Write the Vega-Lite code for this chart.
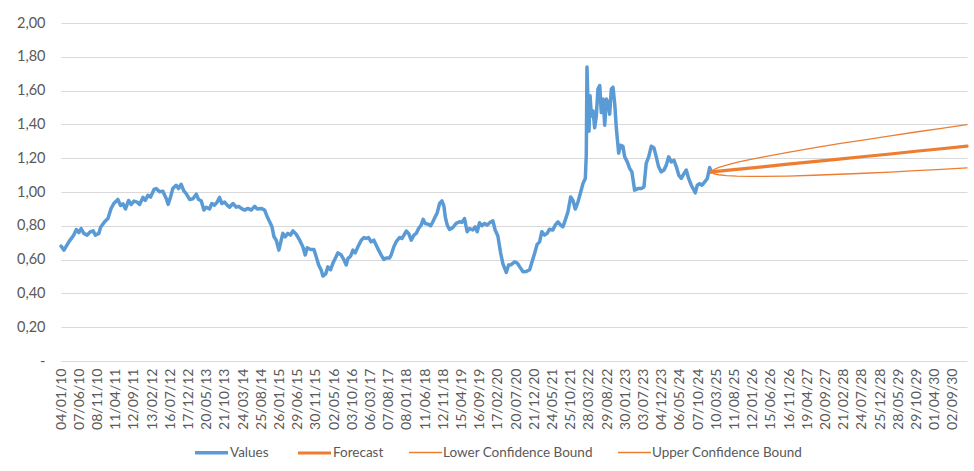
{
  "$schema": "https://vega.github.io/schema/vega-lite/v6.json",
  "autosize": {"type": "none"},
  "width": 906,
  "height": 338,
  "padding": {"left": 61, "top": 23, "right": 7, "bottom": 110},
  "background": "#ffffff",
  "config": {
    "view": {"stroke": null},
    "font": "Lato",
    "axis": {"labelFont": "Lato", "labelColor": "#595959", "labelFontSize": 14},
    "legend": {"labelFont": "Lato", "labelColor": "#595959", "labelFontSize": 13.5}
  },
  "data": {
    "values": [
      {"date": "2010-01-04", "value": 0.68, "series": "Values"},
      {"date": "2010-01-29", "value": 0.656, "series": "Values"},
      {"date": "2010-03-11", "value": 0.705, "series": "Values"},
      {"date": "2010-04-22", "value": 0.745, "series": "Values"},
      {"date": "2010-05-14", "value": 0.778, "series": "Values"},
      {"date": "2010-06-04", "value": 0.759, "series": "Values"},
      {"date": "2010-06-23", "value": 0.784, "series": "Values"},
      {"date": "2010-07-16", "value": 0.755, "series": "Values"},
      {"date": "2010-08-13", "value": 0.745, "series": "Values"},
      {"date": "2010-09-10", "value": 0.765, "series": "Values"},
      {"date": "2010-10-03", "value": 0.77, "series": "Values"},
      {"date": "2010-10-22", "value": 0.745, "series": "Values"},
      {"date": "2010-11-20", "value": 0.755, "series": "Values"},
      {"date": "2010-12-04", "value": 0.79, "series": "Values"},
      {"date": "2011-01-08", "value": 0.824, "series": "Values"},
      {"date": "2011-02-05", "value": 0.843, "series": "Values"},
      {"date": "2011-03-04", "value": 0.903, "series": "Values"},
      {"date": "2011-03-27", "value": 0.932, "series": "Values"},
      {"date": "2011-04-30", "value": 0.956, "series": "Values"},
      {"date": "2011-05-23", "value": 0.92, "series": "Values"},
      {"date": "2011-06-12", "value": 0.93, "series": "Values"},
      {"date": "2011-07-04", "value": 0.9, "series": "Values"},
      {"date": "2011-07-30", "value": 0.95, "series": "Values"},
      {"date": "2011-08-21", "value": 0.926, "series": "Values"},
      {"date": "2011-09-13", "value": 0.946, "series": "Values"},
      {"date": "2011-10-10", "value": 0.94, "series": "Values"},
      {"date": "2011-10-31", "value": 0.926, "series": "Values"},
      {"date": "2011-11-28", "value": 0.968, "series": "Values"},
      {"date": "2011-12-18", "value": 0.95, "series": "Values"},
      {"date": "2012-01-09", "value": 0.981, "series": "Values"},
      {"date": "2012-02-01", "value": 0.97, "series": "Values"},
      {"date": "2012-03-01", "value": 1.015, "series": "Values"},
      {"date": "2012-03-20", "value": 1.02, "series": "Values"},
      {"date": "2012-04-17", "value": 1.001, "series": "Values"},
      {"date": "2012-05-15", "value": 1.005, "series": "Values"},
      {"date": "2012-06-12", "value": 0.962, "series": "Values"},
      {"date": "2012-06-29", "value": 0.927, "series": "Values"},
      {"date": "2012-07-19", "value": 0.971, "series": "Values"},
      {"date": "2012-08-07", "value": 1.021, "series": "Values"},
      {"date": "2012-09-04", "value": 1.04, "series": "Values"},
      {"date": "2012-09-24", "value": 1.02, "series": "Values"},
      {"date": "2012-10-16", "value": 1.046, "series": "Values"},
      {"date": "2012-11-08", "value": 1.007, "series": "Values"},
      {"date": "2012-11-28", "value": 0.99, "series": "Values"},
      {"date": "2012-12-27", "value": 0.956, "series": "Values"},
      {"date": "2013-01-24", "value": 0.96, "series": "Values"},
      {"date": "2013-02-21", "value": 0.987, "series": "Values"},
      {"date": "2013-03-13", "value": 0.956, "series": "Values"},
      {"date": "2013-04-04", "value": 0.948, "series": "Values"},
      {"date": "2013-04-27", "value": 0.893, "series": "Values"},
      {"date": "2013-05-16", "value": 0.91, "series": "Values"},
      {"date": "2013-06-14", "value": 0.9, "series": "Values"},
      {"date": "2013-07-03", "value": 0.932, "series": "Values"},
      {"date": "2013-07-26", "value": 0.922, "series": "Values"},
      {"date": "2013-08-17", "value": 0.94, "series": "Values"},
      {"date": "2013-09-06", "value": 0.968, "series": "Values"},
      {"date": "2013-09-26", "value": 0.932, "series": "Values"},
      {"date": "2013-10-19", "value": 0.94, "series": "Values"},
      {"date": "2013-11-10", "value": 0.922, "series": "Values"},
      {"date": "2013-11-30", "value": 0.91, "series": "Values"},
      {"date": "2013-12-29", "value": 0.932, "series": "Values"},
      {"date": "2014-01-25", "value": 0.91, "series": "Values"},
      {"date": "2014-02-15", "value": 0.915, "series": "Values"},
      {"date": "2014-03-09", "value": 0.903, "series": "Values"},
      {"date": "2014-04-06", "value": 0.893, "series": "Values"},
      {"date": "2014-05-04", "value": 0.903, "series": "Values"},
      {"date": "2014-06-01", "value": 0.893, "series": "Values"},
      {"date": "2014-06-30", "value": 0.915, "series": "Values"},
      {"date": "2014-07-22", "value": 0.9, "series": "Values"},
      {"date": "2014-08-25", "value": 0.903, "series": "Values"},
      {"date": "2014-09-23", "value": 0.893, "series": "Values"},
      {"date": "2014-10-15", "value": 0.853, "series": "Values"},
      {"date": "2014-11-04", "value": 0.824, "series": "Values"},
      {"date": "2014-11-24", "value": 0.794, "series": "Values"},
      {"date": "2014-12-11", "value": 0.735, "series": "Values"},
      {"date": "2014-12-30", "value": 0.715, "series": "Values"},
      {"date": "2015-01-21", "value": 0.656, "series": "Values"},
      {"date": "2015-02-05", "value": 0.7, "series": "Values"},
      {"date": "2015-02-24", "value": 0.755, "series": "Values"},
      {"date": "2015-03-15", "value": 0.735, "series": "Values"},
      {"date": "2015-04-07", "value": 0.755, "series": "Values"},
      {"date": "2015-04-30", "value": 0.745, "series": "Values"},
      {"date": "2015-05-20", "value": 0.77, "series": "Values"},
      {"date": "2015-06-17", "value": 0.75, "series": "Values"},
      {"date": "2015-07-16", "value": 0.715, "series": "Values"},
      {"date": "2015-08-12", "value": 0.676, "series": "Values"},
      {"date": "2015-09-01", "value": 0.627, "series": "Values"},
      {"date": "2015-09-18", "value": 0.67, "series": "Values"},
      {"date": "2015-10-17", "value": 0.66, "series": "Values"},
      {"date": "2015-11-14", "value": 0.66, "series": "Values"},
      {"date": "2015-12-03", "value": 0.617, "series": "Values"},
      {"date": "2015-12-24", "value": 0.568, "series": "Values"},
      {"date": "2016-01-14", "value": 0.538, "series": "Values"},
      {"date": "2016-01-29", "value": 0.503, "series": "Values"},
      {"date": "2016-02-21", "value": 0.515, "series": "Values"},
      {"date": "2016-03-11", "value": 0.557, "series": "Values"},
      {"date": "2016-04-03", "value": 0.54, "series": "Values"},
      {"date": "2016-04-22", "value": 0.578, "series": "Values"},
      {"date": "2016-05-12", "value": 0.607, "series": "Values"},
      {"date": "2016-06-04", "value": 0.64, "series": "Values"},
      {"date": "2016-07-02", "value": 0.627, "series": "Values"},
      {"date": "2016-07-25", "value": 0.598, "series": "Values"},
      {"date": "2016-08-13", "value": 0.568, "series": "Values"},
      {"date": "2016-08-28", "value": 0.607, "series": "Values"},
      {"date": "2016-09-19", "value": 0.62, "series": "Values"},
      {"date": "2016-10-09", "value": 0.656, "series": "Values"},
      {"date": "2016-10-28", "value": 0.64, "series": "Values"},
      {"date": "2016-11-20", "value": 0.676, "series": "Values"},
      {"date": "2016-12-18", "value": 0.715, "series": "Values"},
      {"date": "2017-01-09", "value": 0.73, "series": "Values"},
      {"date": "2017-01-29", "value": 0.725, "series": "Values"},
      {"date": "2017-02-18", "value": 0.73, "series": "Values"},
      {"date": "2017-03-12", "value": 0.705, "series": "Values"},
      {"date": "2017-04-04", "value": 0.715, "series": "Values"},
      {"date": "2017-04-23", "value": 0.686, "series": "Values"},
      {"date": "2017-05-14", "value": 0.656, "series": "Values"},
      {"date": "2017-06-05", "value": 0.627, "series": "Values"},
      {"date": "2017-06-27", "value": 0.601, "series": "Values"},
      {"date": "2017-07-17", "value": 0.61, "series": "Values"},
      {"date": "2017-08-15", "value": 0.61, "series": "Values"},
      {"date": "2017-08-28", "value": 0.627, "series": "Values"},
      {"date": "2017-09-20", "value": 0.676, "series": "Values"},
      {"date": "2017-10-09", "value": 0.705, "series": "Values"},
      {"date": "2017-11-07", "value": 0.731, "series": "Values"},
      {"date": "2017-11-27", "value": 0.725, "series": "Values"},
      {"date": "2017-12-15", "value": 0.745, "series": "Values"},
      {"date": "2018-01-03", "value": 0.769, "series": "Values"},
      {"date": "2018-01-23", "value": 0.755, "series": "Values"},
      {"date": "2018-02-14", "value": 0.715, "series": "Values"},
      {"date": "2018-03-09", "value": 0.745, "series": "Values"},
      {"date": "2018-03-28", "value": 0.755, "series": "Values"},
      {"date": "2018-04-17", "value": 0.784, "series": "Values"},
      {"date": "2018-05-09", "value": 0.804, "series": "Values"},
      {"date": "2018-05-26", "value": 0.838, "series": "Values"},
      {"date": "2018-06-12", "value": 0.814, "series": "Values"},
      {"date": "2018-07-05", "value": 0.81, "series": "Values"},
      {"date": "2018-07-28", "value": 0.8, "series": "Values"},
      {"date": "2018-08-16", "value": 0.824, "series": "Values"},
      {"date": "2018-09-05", "value": 0.853, "series": "Values"},
      {"date": "2018-09-22", "value": 0.877, "series": "Values"},
      {"date": "2018-10-12", "value": 0.932, "series": "Values"},
      {"date": "2018-11-01", "value": 0.948, "series": "Values"},
      {"date": "2018-11-18", "value": 0.915, "series": "Values"},
      {"date": "2018-11-29", "value": 0.853, "series": "Values"},
      {"date": "2018-12-16", "value": 0.804, "series": "Values"},
      {"date": "2019-01-04", "value": 0.778, "series": "Values"},
      {"date": "2019-02-01", "value": 0.79, "series": "Values"},
      {"date": "2019-03-01", "value": 0.814, "series": "Values"},
      {"date": "2019-03-30", "value": 0.824, "series": "Values"},
      {"date": "2019-04-18", "value": 0.82, "series": "Values"},
      {"date": "2019-05-11", "value": 0.843, "series": "Values"},
      {"date": "2019-06-02", "value": 0.765, "series": "Values"},
      {"date": "2019-06-22", "value": 0.784, "series": "Values"},
      {"date": "2019-07-20", "value": 0.775, "series": "Values"},
      {"date": "2019-08-09", "value": 0.794, "series": "Values"},
      {"date": "2019-08-26", "value": 0.765, "series": "Values"},
      {"date": "2019-09-15", "value": 0.818, "series": "Values"},
      {"date": "2019-10-05", "value": 0.8, "series": "Values"},
      {"date": "2019-10-28", "value": 0.814, "series": "Values"},
      {"date": "2019-11-19", "value": 0.804, "series": "Values"},
      {"date": "2019-12-09", "value": 0.818, "series": "Values"},
      {"date": "2020-01-06", "value": 0.829, "series": "Values"},
      {"date": "2020-01-25", "value": 0.775, "series": "Values"},
      {"date": "2020-02-17", "value": 0.74, "series": "Values"},
      {"date": "2020-03-11", "value": 0.64, "series": "Values"},
      {"date": "2020-03-31", "value": 0.575, "series": "Values"},
      {"date": "2020-04-28", "value": 0.524, "series": "Values"},
      {"date": "2020-05-18", "value": 0.568, "series": "Values"},
      {"date": "2020-06-09", "value": 0.57, "series": "Values"},
      {"date": "2020-07-08", "value": 0.587, "series": "Values"},
      {"date": "2020-07-30", "value": 0.58, "series": "Values"},
      {"date": "2020-08-20", "value": 0.557, "series": "Values"},
      {"date": "2020-09-17", "value": 0.528, "series": "Values"},
      {"date": "2020-10-15", "value": 0.53, "series": "Values"},
      {"date": "2020-11-12", "value": 0.54, "series": "Values"},
      {"date": "2020-12-02", "value": 0.587, "series": "Values"},
      {"date": "2020-12-24", "value": 0.637, "series": "Values"},
      {"date": "2021-01-14", "value": 0.69, "series": "Values"},
      {"date": "2021-02-04", "value": 0.705, "series": "Values"},
      {"date": "2021-02-23", "value": 0.765, "series": "Values"},
      {"date": "2021-03-18", "value": 0.745, "series": "Values"},
      {"date": "2021-04-09", "value": 0.755, "series": "Values"},
      {"date": "2021-04-29", "value": 0.78, "series": "Values"},
      {"date": "2021-05-27", "value": 0.775, "series": "Values"},
      {"date": "2021-06-16", "value": 0.804, "series": "Values"},
      {"date": "2021-07-09", "value": 0.824, "series": "Values"},
      {"date": "2021-08-01", "value": 0.804, "series": "Values"},
      {"date": "2021-08-20", "value": 0.794, "series": "Values"},
      {"date": "2021-09-09", "value": 0.834, "series": "Values"},
      {"date": "2021-10-02", "value": 0.883, "series": "Values"},
      {"date": "2021-10-25", "value": 0.971, "series": "Values"},
      {"date": "2021-11-13", "value": 0.95, "series": "Values"},
      {"date": "2021-12-03", "value": 0.899, "series": "Values"},
      {"date": "2021-12-26", "value": 0.942, "series": "Values"},
      {"date": "2022-01-18", "value": 1.0, "series": "Values"},
      {"date": "2022-02-06", "value": 1.05, "series": "Values"},
      {"date": "2022-02-26", "value": 1.08, "series": "Values"},
      {"date": "2022-03-06", "value": 1.22, "series": "Values"},
      {"date": "2022-03-12", "value": 1.74, "series": "Values"},
      {"date": "2022-03-21", "value": 1.51, "series": "Values"},
      {"date": "2022-03-29", "value": 1.36, "series": "Values"},
      {"date": "2022-04-07", "value": 1.57, "series": "Values"},
      {"date": "2022-04-18", "value": 1.45, "series": "Values"},
      {"date": "2022-05-02", "value": 1.48, "series": "Values"},
      {"date": "2022-05-16", "value": 1.38, "series": "Values"},
      {"date": "2022-05-30", "value": 1.45, "series": "Values"},
      {"date": "2022-06-13", "value": 1.61, "series": "Values"},
      {"date": "2022-06-28", "value": 1.63, "series": "Values"},
      {"date": "2022-07-11", "value": 1.47, "series": "Values"},
      {"date": "2022-07-26", "value": 1.55, "series": "Values"},
      {"date": "2022-08-09", "value": 1.395, "series": "Values"},
      {"date": "2022-08-23", "value": 1.55, "series": "Values"},
      {"date": "2022-09-06", "value": 1.53, "series": "Values"},
      {"date": "2022-09-20", "value": 1.46, "series": "Values"},
      {"date": "2022-10-04", "value": 1.61, "series": "Values"},
      {"date": "2022-10-18", "value": 1.62, "series": "Values"},
      {"date": "2022-11-02", "value": 1.52, "series": "Values"},
      {"date": "2022-11-15", "value": 1.38, "series": "Values"},
      {"date": "2022-12-05", "value": 1.23, "series": "Values"},
      {"date": "2022-12-22", "value": 1.277, "series": "Values"},
      {"date": "2023-01-10", "value": 1.27, "series": "Values"},
      {"date": "2023-01-25", "value": 1.208, "series": "Values"},
      {"date": "2023-02-16", "value": 1.178, "series": "Values"},
      {"date": "2023-03-08", "value": 1.139, "series": "Values"},
      {"date": "2023-03-27", "value": 1.119, "series": "Values"},
      {"date": "2023-04-19", "value": 1.011, "series": "Values"},
      {"date": "2023-05-17", "value": 1.02, "series": "Values"},
      {"date": "2023-06-14", "value": 1.02, "series": "Values"},
      {"date": "2023-07-07", "value": 1.03, "series": "Values"},
      {"date": "2023-07-26", "value": 1.169, "series": "Values"},
      {"date": "2023-08-16", "value": 1.208, "series": "Values"},
      {"date": "2023-09-07", "value": 1.271, "series": "Values"},
      {"date": "2023-09-30", "value": 1.26, "series": "Values"},
      {"date": "2023-10-19", "value": 1.208, "series": "Values"},
      {"date": "2023-11-08", "value": 1.149, "series": "Values"},
      {"date": "2023-11-30", "value": 1.119, "series": "Values"},
      {"date": "2023-12-23", "value": 1.13, "series": "Values"},
      {"date": "2024-01-12", "value": 1.159, "series": "Values"},
      {"date": "2024-02-01", "value": 1.208, "series": "Values"},
      {"date": "2024-02-23", "value": 1.178, "series": "Values"},
      {"date": "2024-03-17", "value": 1.188, "series": "Values"},
      {"date": "2024-04-06", "value": 1.149, "series": "Values"},
      {"date": "2024-04-26", "value": 1.1, "series": "Values"},
      {"date": "2024-05-18", "value": 1.08, "series": "Values"},
      {"date": "2024-06-10", "value": 1.11, "series": "Values"},
      {"date": "2024-06-29", "value": 1.13, "series": "Values"},
      {"date": "2024-07-19", "value": 1.08, "series": "Values"},
      {"date": "2024-08-10", "value": 1.04, "series": "Values"},
      {"date": "2024-09-02", "value": 1.011, "series": "Values"},
      {"date": "2024-09-13", "value": 0.995, "series": "Values"},
      {"date": "2024-09-30", "value": 1.04, "series": "Values"},
      {"date": "2024-10-20", "value": 1.05, "series": "Values"},
      {"date": "2024-11-09", "value": 1.04, "series": "Values"},
      {"date": "2024-12-02", "value": 1.06, "series": "Values"},
      {"date": "2024-12-24", "value": 1.08, "series": "Values"},
      {"date": "2025-01-13", "value": 1.145, "series": "Values"},
      {"date": "2025-01-26", "value": 1.119, "series": "Values"},

      {"date": "2025-01-26", "value": 1.119, "series": "Forecast"},
      {"date": "2025-08-30", "value": 1.134, "series": "Forecast"},
      {"date": "2026-04-04", "value": 1.149, "series": "Forecast"},
      {"date": "2026-11-06", "value": 1.165, "series": "Forecast"},
      {"date": "2027-06-11", "value": 1.18, "series": "Forecast"},
      {"date": "2028-01-13", "value": 1.195, "series": "Forecast"},
      {"date": "2028-08-16", "value": 1.21, "series": "Forecast"},
      {"date": "2029-03-21", "value": 1.225, "series": "Forecast"},
      {"date": "2029-10-23", "value": 1.241, "series": "Forecast"},
      {"date": "2030-05-28", "value": 1.256, "series": "Forecast"},
      {"date": "2030-12-30", "value": 1.271, "series": "Forecast"},

      {"date": "2025-01-26", "value": 1.119, "series": "Lower Confidence Bound"},
      {"date": "2025-02-17", "value": 1.108, "series": "Lower Confidence Bound"},
      {"date": "2025-04-01", "value": 1.102, "series": "Lower Confidence Bound"},
      {"date": "2025-06-05", "value": 1.097, "series": "Lower Confidence Bound"},
      {"date": "2025-08-30", "value": 1.094, "series": "Lower Confidence Bound"},
      {"date": "2025-12-17", "value": 1.092, "series": "Lower Confidence Bound"},
      {"date": "2026-04-04", "value": 1.092, "series": "Lower Confidence Bound"},
      {"date": "2026-11-06", "value": 1.094, "series": "Lower Confidence Bound"},
      {"date": "2027-06-11", "value": 1.099, "series": "Lower Confidence Bound"},
      {"date": "2028-01-13", "value": 1.105, "series": "Lower Confidence Bound"},
      {"date": "2028-08-16", "value": 1.111, "series": "Lower Confidence Bound"},
      {"date": "2029-03-21", "value": 1.118, "series": "Lower Confidence Bound"},
      {"date": "2029-10-23", "value": 1.126, "series": "Lower Confidence Bound"},
      {"date": "2030-05-28", "value": 1.134, "series": "Lower Confidence Bound"},
      {"date": "2030-12-30", "value": 1.143, "series": "Lower Confidence Bound"},

      {"date": "2025-01-26", "value": 1.119, "series": "Upper Confidence Bound"},
      {"date": "2025-02-17", "value": 1.133, "series": "Upper Confidence Bound"},
      {"date": "2025-04-01", "value": 1.146, "series": "Upper Confidence Bound"},
      {"date": "2025-06-05", "value": 1.159, "series": "Upper Confidence Bound"},
      {"date": "2025-08-30", "value": 1.175, "series": "Upper Confidence Bound"},
      {"date": "2025-12-17", "value": 1.191, "series": "Upper Confidence Bound"},
      {"date": "2026-04-04", "value": 1.207, "series": "Upper Confidence Bound"},
      {"date": "2026-11-06", "value": 1.235, "series": "Upper Confidence Bound"},
      {"date": "2027-06-11", "value": 1.261, "series": "Upper Confidence Bound"},
      {"date": "2028-01-13", "value": 1.286, "series": "Upper Confidence Bound"},
      {"date": "2028-08-16", "value": 1.309, "series": "Upper Confidence Bound"},
      {"date": "2029-03-21", "value": 1.332, "series": "Upper Confidence Bound"},
      {"date": "2029-10-23", "value": 1.355, "series": "Upper Confidence Bound"},
      {"date": "2030-05-28", "value": 1.377, "series": "Upper Confidence Bound"},
      {"date": "2030-12-30", "value": 1.399, "series": "Upper Confidence Bound"}
    ]
  },
  "mark": {"type": "line", "strokeCap": "round", "strokeJoin": "round"},
  "encoding": {
    "x": {
      "field": "date",
      "type": "temporal",
      "scale": {
        "type": "utc",
        "domain": [
          {"year": 2010, "month": 1, "date": 4, "utc": true},
          {"year": 2030, "month": 12, "date": 30, "utc": true}
        ]
      },
      "axis": {
        "title": null,
        "values": [
          {"year": 2010, "month": 1, "date": 4, "utc": true},
          {"year": 2010, "month": 6, "date": 7, "utc": true},
          {"year": 2010, "month": 11, "date": 8, "utc": true},
          {"year": 2011, "month": 4, "date": 11, "utc": true},
          {"year": 2011, "month": 9, "date": 12, "utc": true},
          {"year": 2012, "month": 2, "date": 13, "utc": true},
          {"year": 2012, "month": 7, "date": 16, "utc": true},
          {"year": 2012, "month": 12, "date": 17, "utc": true},
          {"year": 2013, "month": 5, "date": 20, "utc": true},
          {"year": 2013, "month": 10, "date": 21, "utc": true},
          {"year": 2014, "month": 3, "date": 24, "utc": true},
          {"year": 2014, "month": 8, "date": 25, "utc": true},
          {"year": 2015, "month": 1, "date": 26, "utc": true},
          {"year": 2015, "month": 6, "date": 29, "utc": true},
          {"year": 2015, "month": 11, "date": 30, "utc": true},
          {"year": 2016, "month": 5, "date": 2, "utc": true},
          {"year": 2016, "month": 10, "date": 3, "utc": true},
          {"year": 2017, "month": 3, "date": 6, "utc": true},
          {"year": 2017, "month": 8, "date": 7, "utc": true},
          {"year": 2018, "month": 1, "date": 8, "utc": true},
          {"year": 2018, "month": 6, "date": 11, "utc": true},
          {"year": 2018, "month": 11, "date": 12, "utc": true},
          {"year": 2019, "month": 4, "date": 15, "utc": true},
          {"year": 2019, "month": 9, "date": 16, "utc": true},
          {"year": 2020, "month": 2, "date": 17, "utc": true},
          {"year": 2020, "month": 7, "date": 20, "utc": true},
          {"year": 2020, "month": 12, "date": 21, "utc": true},
          {"year": 2021, "month": 5, "date": 24, "utc": true},
          {"year": 2021, "month": 10, "date": 25, "utc": true},
          {"year": 2022, "month": 3, "date": 28, "utc": true},
          {"year": 2022, "month": 8, "date": 29, "utc": true},
          {"year": 2023, "month": 1, "date": 30, "utc": true},
          {"year": 2023, "month": 7, "date": 3, "utc": true},
          {"year": 2023, "month": 12, "date": 4, "utc": true},
          {"year": 2024, "month": 5, "date": 6, "utc": true},
          {"year": 2024, "month": 10, "date": 7, "utc": true},
          {"year": 2025, "month": 3, "date": 10, "utc": true},
          {"year": 2025, "month": 8, "date": 11, "utc": true},
          {"year": 2026, "month": 1, "date": 12, "utc": true},
          {"year": 2026, "month": 6, "date": 15, "utc": true},
          {"year": 2026, "month": 11, "date": 16, "utc": true},
          {"year": 2027, "month": 4, "date": 19, "utc": true},
          {"year": 2027, "month": 9, "date": 20, "utc": true},
          {"year": 2028, "month": 2, "date": 21, "utc": true},
          {"year": 2028, "month": 7, "date": 24, "utc": true},
          {"year": 2028, "month": 12, "date": 25, "utc": true},
          {"year": 2029, "month": 5, "date": 28, "utc": true},
          {"year": 2029, "month": 10, "date": 29, "utc": true},
          {"year": 2030, "month": 4, "date": 1, "utc": true},
          {"year": 2030, "month": 9, "date": 2, "utc": true}
        ],
        "labelExpr": "utcFormat(datum.value, '%d/%m/%y')",
        "labelAngle": -90,
        "labelOverlap": false,
        "labelBound": false,
        "labelFlush": false,
        "labelPadding": 7,
        "ticks": false,
        "tickSize": 0,
        "domain": false,
        "grid": false
      }
    },
    "y": {
      "field": "value",
      "type": "quantitative",
      "scale": {"domain": [0, 2], "nice": false, "zero": true},
      "axis": {
        "title": null,
        "values": [0, 0.2, 0.4, 0.6, 0.8, 1.0, 1.2, 1.4, 1.6, 1.8, 2.0],
        "labelExpr": "datum.value == 0 ? '-\u00a0\u00a0\u00a0' : replace(format(datum.value, '.2f'), '.', ',')",
        "labelFontSize": 14.5,
        "labelPadding": 16,
        "ticks": false,
        "tickSize": 0,
        "domain": false,
        "grid": true,
        "gridColor": "#d9d9d9",
        "gridWidth": 1
      }
    },
    "color": {
      "field": "series",
      "type": "nominal",
      "scale": {
        "domain": ["Values", "Forecast", "Lower Confidence Bound", "Upper Confidence Bound"],
        "range": ["#5b9bd5", "#ed7d31", "#ed7d31", "#ed7d31"]
      },
      "legend": {
        "title": null,
        "orient": "none",
        "direction": "horizontal",
        "legendX": 132,
        "legendY": 411,
        "symbolType": "stroke",
        "symbolSize": 1089,
        "labelOffset": 0,
        "columnPadding": 22,
        "padding": 0
      }
    },
    "strokeWidth": {
      "field": "series",
      "type": "nominal",
      "scale": {
        "type": "ordinal",
        "domain": ["Values", "Forecast", "Lower Confidence Bound", "Upper Confidence Bound"],
        "range": [3.5, 3.2, 1.3, 1.3]
      },
      "legend": {
        "title": null,
        "orient": "none",
        "direction": "horizontal",
        "legendX": 132,
        "legendY": 411,
        "symbolType": "stroke",
        "symbolSize": 1089,
        "labelOffset": 0,
        "columnPadding": 22,
        "padding": 0
      }
    }
  }
}
